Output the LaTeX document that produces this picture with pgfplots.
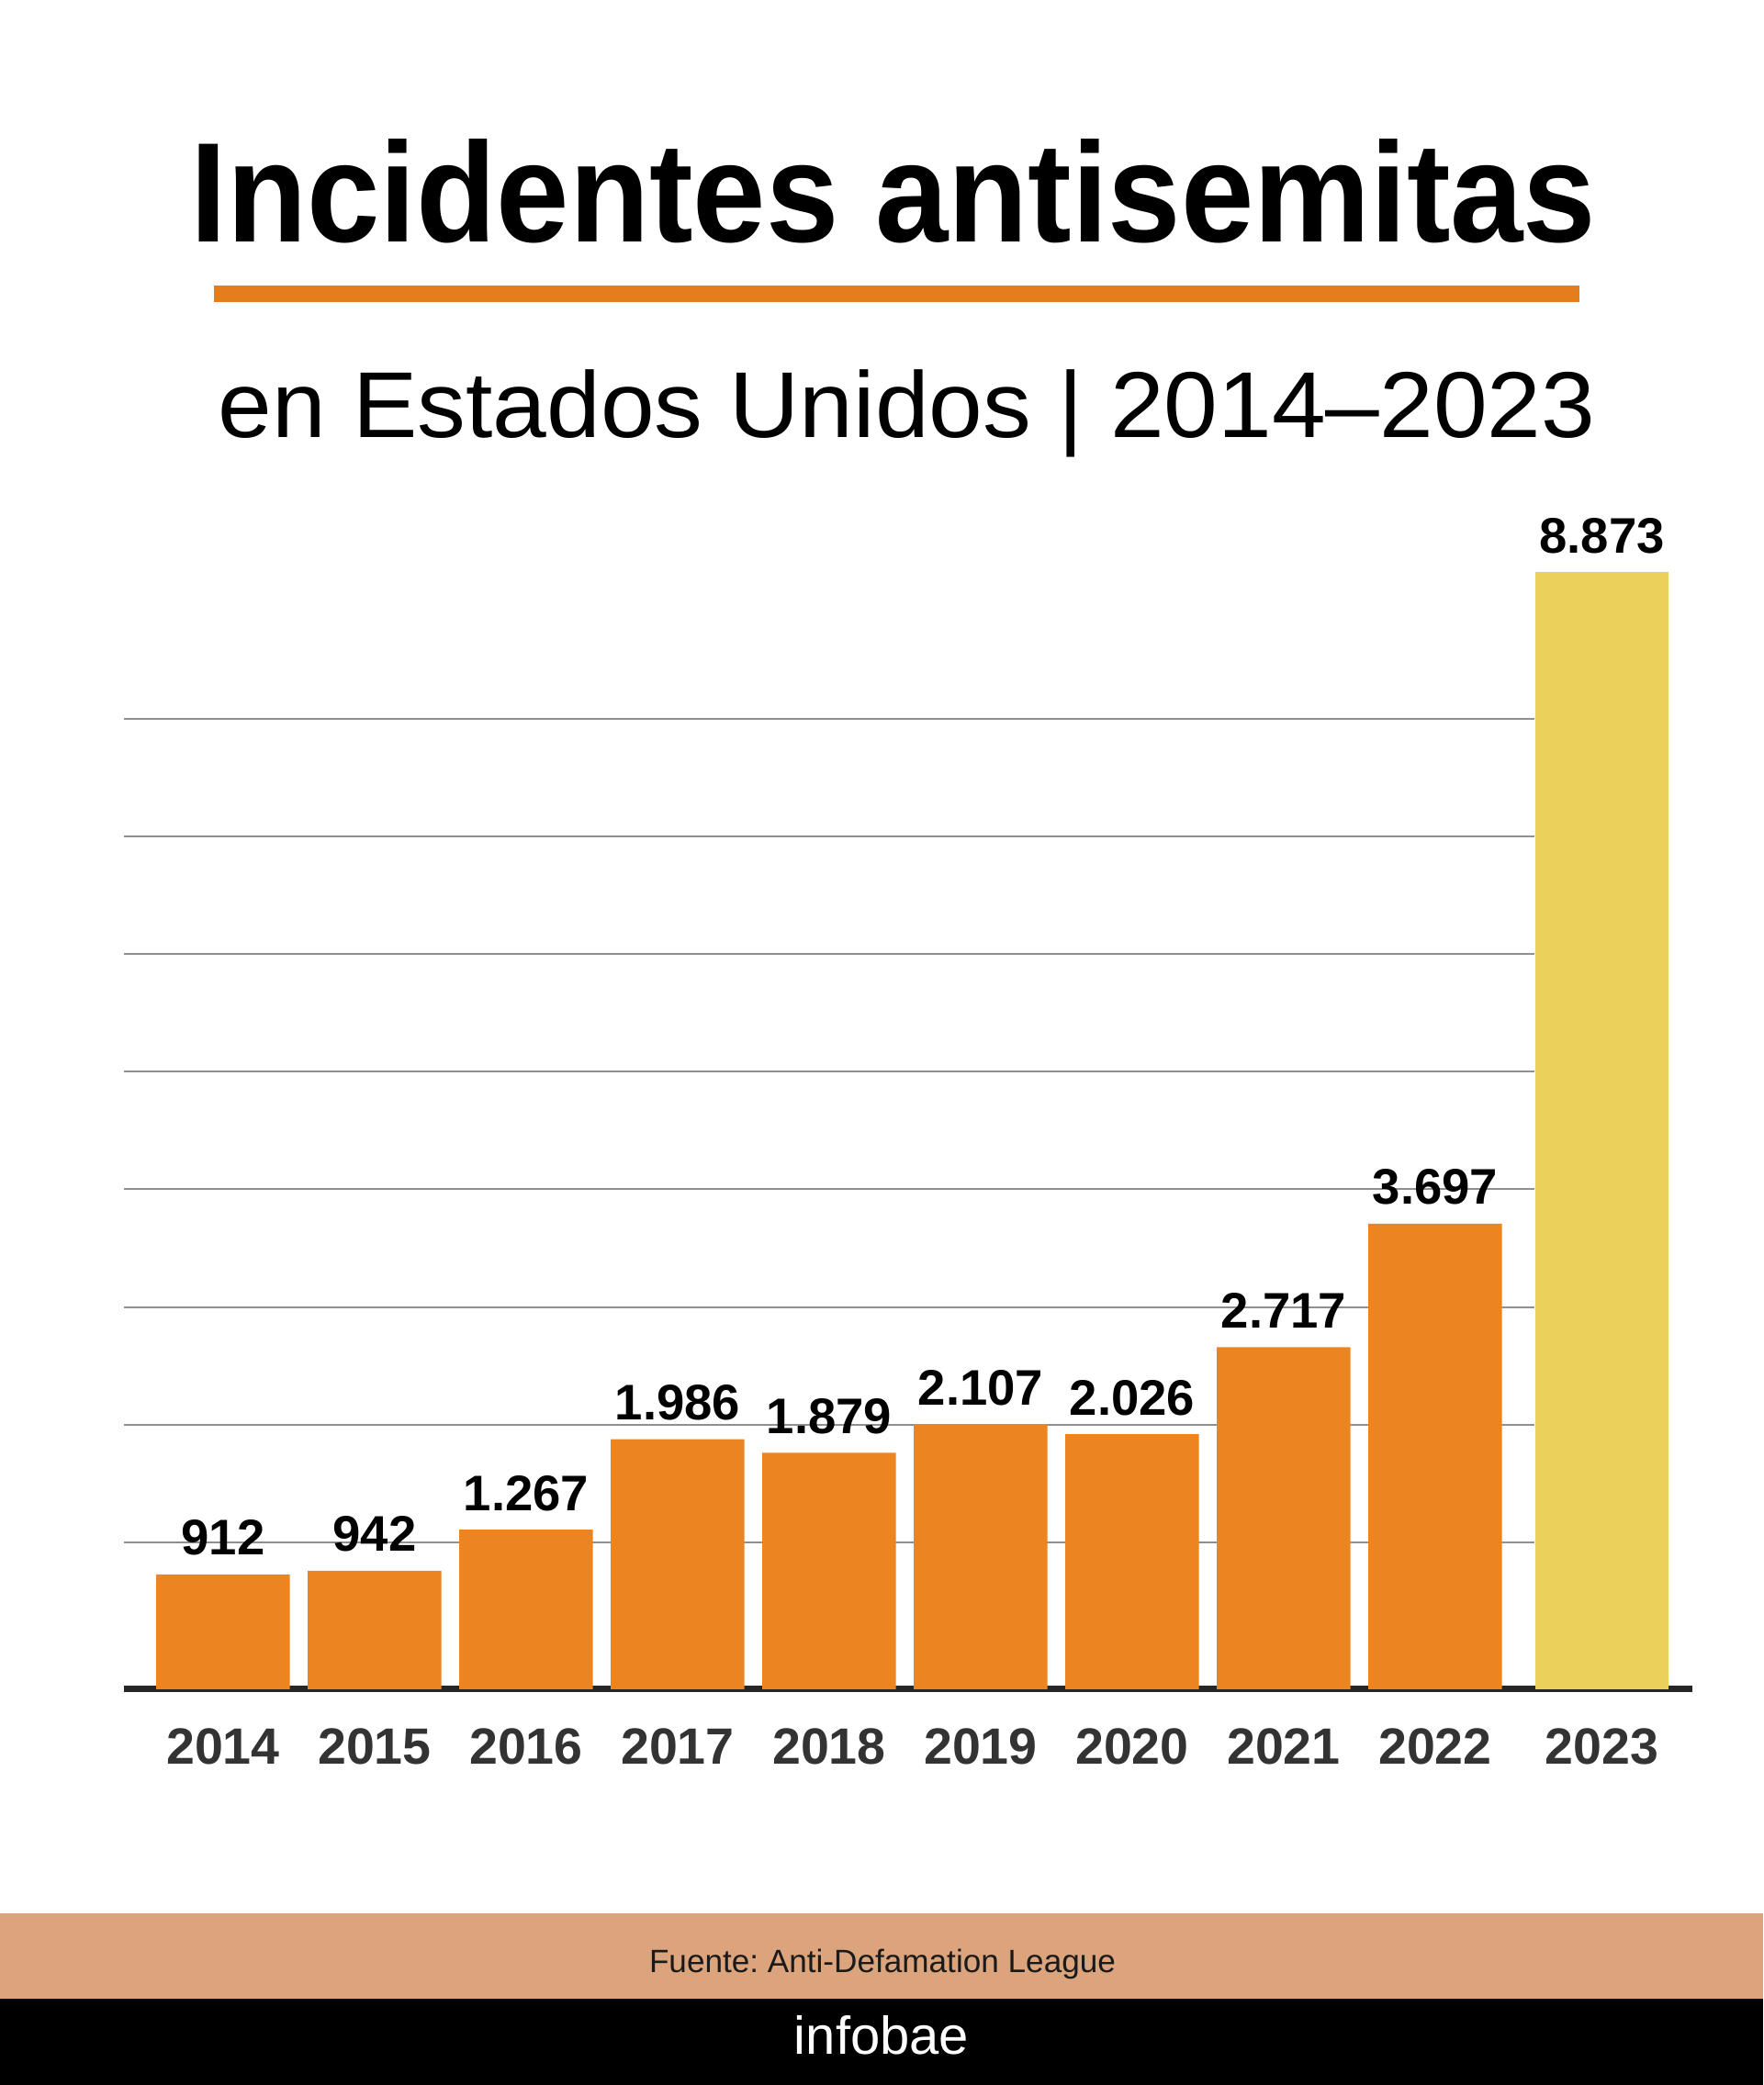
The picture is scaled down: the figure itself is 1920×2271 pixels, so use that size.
\documentclass[border=0pt]{standalone}
\usepackage{fontspec}
\setmainfont{Liberation Sans}
\usepackage{graphicx}
\usepackage{pgfplots}
\pgfplotsset{compat=1.18}
\usepackage{pgfplotstable}

\definecolor{barorange}{HTML}{EC8520}
\definecolor{baryellow}{HTML}{ECD05C}
\definecolor{lineorange}{HTML}{E27F1C}
\definecolor{footertan}{HTML}{DCA47C}
\definecolor{gridgray}{HTML}{8F8F8F}
\definecolor{axisdark}{HTML}{262626}
\definecolor{yeargray}{HTML}{333333}
\definecolor{srcdark}{HTML}{1A1A1A}

\pgfplotstableread{
x y lab
0 912 912
1 942 942
2 1267 1.267
3 1986 1.986
4 1879 1.879
5 2107 2.107
6 2026 2.026
7 2717 2.717
8 3697 3.697
}\orangedata
\pgfplotstableread{
x y lab
9.1 8873 8.873
}\yellowdata

\begin{document}
\frenchspacing
\begin{tikzpicture}[x=0.1mm,y=0.1mm]
\useasboundingbox (0,0) rectangle (1920,2271);
\fill[white] (0,0) rectangle (1920,2271);
\fill[footertan] (0,94) rectangle (1920,187);
\fill[black] (0,0) rectangle (1920,94);

\node[anchor=base, inner sep=0] at (973,2007)
  {\resizebox{435.6pt}{\height}{\fontsize{44}{50}\selectfont\bfseries Incidentes antisemitas}};
\fill[lineorange] (233,1942) rectangle (1720,1960);
\node[anchor=base west, inner sep=0] at (237,1794)
  {\resizebox{426.7pt}{\height}{\fontsize{29}{34}\selectfont en Estados Unidos | 2014–2023}};

\node[anchor=base, inner sep=0, text=srcdark] at (961,122)
  {\fontsize{10}{12}\selectfont Fuente: Anti-Defamation League};
\node[anchor=base, inner sep=0, text=white] at (960,33)
  {\fontsize{16.5}{20}\selectfont infobae};

\begin{axis}[
  at={(13.5mm,43.1mm)}, anchor=south west, scale only axis,
  width=170.8mm, height=123.44mm,
  xmin=-0.6545, xmax=9.697, ymin=0, ymax=9000,
  clip=false,
  axis x line=bottom, axis y line=none,
  axis line style={draw=axisdark, line width=0.7mm, -},
  xtick={0,1,2,3,4,5,6,7,8,9.1},
  xticklabels={2014,2015,2016,2017,2018,2019,2020,2021,2022,2023},
  major tick length=0pt,
  ytick=\empty,
  xticklabel style={font=\fontsize{15.8}{18}\selectfont\bfseries, text=yeargray, anchor=base, yshift=-8.2mm},
]
\addplot[gridgray, line width=0.2mm, forget plot] coordinates {(-0.6545,1166) (8.657,1166)};
\addplot[gridgray, line width=0.2mm, forget plot] coordinates {(-0.6545,2101) (8.657,2101)};
\addplot[gridgray, line width=0.2mm, forget plot] coordinates {(-0.6545,3036) (8.657,3036)};
\addplot[gridgray, line width=0.2mm, forget plot] coordinates {(-0.6545,3970) (8.657,3970)};
\addplot[gridgray, line width=0.2mm, forget plot] coordinates {(-0.6545,4905) (8.657,4905)};
\addplot[gridgray, line width=0.2mm, forget plot] coordinates {(-0.6545,5840) (8.657,5840)};
\addplot[gridgray, line width=0.2mm, forget plot] coordinates {(-0.6545,6775) (8.657,6775)};
\addplot[gridgray, line width=0.2mm, forget plot] coordinates {(-0.6545,7709) (8.657,7709)};

\addplot[ybar, bar width=14.55mm, bar shift=0pt, fill=barorange, draw=none,
  nodes near coords, point meta=explicit symbolic,
  every node near coord/.append style={font=\fontsize{15.5}{18}\selectfont\bfseries, text=black, anchor=base, yshift=2.1mm, inner sep=0pt}]
  table[x=x, y=y, meta=lab] {\orangedata};
\addplot[ybar, bar width=14.55mm, bar shift=0pt, fill=baryellow, draw=none,
  nodes near coords, point meta=explicit symbolic,
  every node near coord/.append style={font=\fontsize{15.5}{18}\selectfont\bfseries, text=black, anchor=base, yshift=2.1mm, inner sep=0pt}]
  table[x=x, y=y, meta=lab] {\yellowdata};
\end{axis}
\end{tikzpicture}
\end{document}
